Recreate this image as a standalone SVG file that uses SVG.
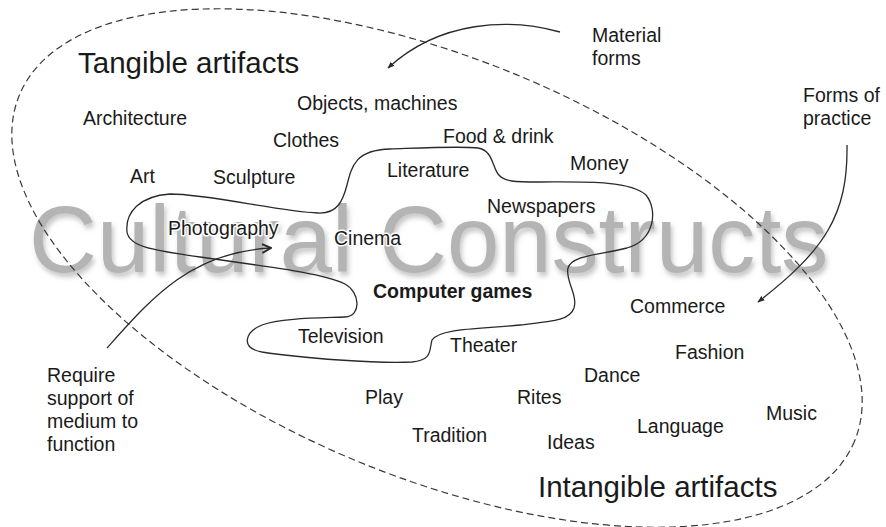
<svg xmlns="http://www.w3.org/2000/svg" width="886" height="527" viewBox="0 0 886 527">
<style>
  .lbl { font-family: "Liberation Sans", Arial, sans-serif; font-size: 19.5px; fill: #1a1a1a; stroke: #fff; stroke-width: 3px; paint-order: stroke; stroke-linejoin: round; }
  .big { font-family: "Liberation Sans", Arial, sans-serif; font-size: 29.5px; fill: #1a1a1a; }
  .bold { font-weight: bold; }
  .wm { font-family: "Liberation Sans", Arial, sans-serif; font-size: 94px; fill: #b4b4b4; }
  .line { fill: none; stroke: #2a2a2a; stroke-width: 1.3; }
  .dash { fill: none; stroke: #3a3a3a; stroke-width: 1.2; stroke-dasharray: 7 4; }
</style>
<defs>
  <filter id="shadow" x="-5%" y="-20%" width="110%" height="150%">
    <feDropShadow dx="2" dy="4" stdDeviation="2.5" flood-color="#8a8a8a" flood-opacity="0.5"/>
  </filter>
  <marker id="tri" viewBox="0 0 10 10" refX="9" refY="5" markerWidth="7" markerHeight="7" orient="auto" markerUnits="userSpaceOnUse">
    <path d="M0,1 L10,5 L0,9 Z" fill="#2a2a2a"/>
  </marker>
  <marker id="chev" viewBox="0 0 10 10" refX="9" refY="5" markerWidth="11" markerHeight="11" orient="auto" markerUnits="userSpaceOnUse">
    <path d="M1,1 L9,5 L1,9" fill="none" stroke="#2a2a2a" stroke-width="1.8"/>
  </marker>
</defs>
<rect width="886" height="527" fill="#ffffff"/>

<g id="watermark">
  <text class="wm" x="29" y="272" filter="url(#shadow)">Cultural Constructs</text>
</g>

<g id="scope-ellipse">
  <ellipse class="dash" cx="437" cy="268" rx="452" ry="209" transform="rotate(22.5 437 268)"/>
</g>

<g id="medium-region">
  <path class="line" d="M127,232 C125,212 140,196 170,194 C210,194 280,212 318,213 C338,214 343,200 347,185 C352,165 356,150 390,149 C420,148 460,146 478,148 C492,150 492,165 498,174 C504,182 515,182 540,182 C580,182 630,180 646,195 C658,210 655,240 627,248 C600,255 572,255 568,268 C565,280 578,295 574,308 C570,320 555,321 520,325 C480,329 440,328 432,340 C429,350 433,360 412,362 C380,364 300,358 262,352 C240,348 245,332 262,325 C280,318 320,318 345,317 C362,316 360,292 345,284 C320,272 260,266 200,257 C150,250 129,246 127,232 Z"/>
</g>

<g id="connectors">
  <path class="line" d="M560,32 C510,18 440,20 388,68" marker-end="url(#tri)"/>
  <path class="line" d="M847,145 C848,215 825,250 758,302" marker-end="url(#tri)"/>
  <path class="line" d="M107,348 C150,300 190,252 271,248" marker-end="url(#chev)"/>
</g>

<g id="tangible-title"><text class="big" x="78" y="73">Tangible artifacts</text></g>
<g id="intangible-title"><text class="big" x="538" y="497">Intangible artifacts</text></g>

<g id="material-forms"><text class="lbl" x="592" y="42">Material</text><text class="lbl" x="592" y="65">forms</text></g>
<g id="forms-of-practice"><text class="lbl" x="803" y="102">Forms of</text><text class="lbl" x="803" y="125">practice</text></g>
<g id="require-support">
  <text class="lbl" x="47" y="382">Require</text>
  <text class="lbl" x="47" y="405">support of</text>
  <text class="lbl" x="47" y="428">medium to</text>
  <text class="lbl" x="47" y="451">function</text>
</g>

<g id="architecture"><text class="lbl" x="83" y="125">Architecture</text></g>
<g id="objects-machines"><text class="lbl" x="297" y="110">Objects, machines</text></g>
<g id="clothes"><text class="lbl" x="273" y="147">Clothes</text></g>
<g id="food-drink"><text class="lbl" x="443" y="143">Food &amp; drink</text></g>
<g id="money"><text class="lbl" x="570" y="170">Money</text></g>
<g id="art"><text class="lbl" x="130" y="183">Art</text></g>
<g id="sculpture"><text class="lbl" x="213" y="184">Sculpture</text></g>
<g id="literature"><text class="lbl" x="387" y="177">Literature</text></g>
<g id="newspapers"><text class="lbl" x="487" y="213">Newspapers</text></g>
<g id="photography"><text class="lbl" x="168" y="235">Photography</text></g>
<g id="cinema"><text class="lbl" x="334" y="245">Cinema</text></g>
<g id="computer-games"><text class="lbl bold" x="373" y="298">Computer games</text></g>
<g id="television"><text class="lbl" x="298" y="343">Television</text></g>
<g id="theater"><text class="lbl" x="450" y="352">Theater</text></g>
<g id="commerce"><text class="lbl" x="630" y="313">Commerce</text></g>
<g id="fashion"><text class="lbl" x="675" y="359">Fashion</text></g>
<g id="dance"><text class="lbl" x="584" y="382">Dance</text></g>
<g id="play"><text class="lbl" x="365" y="404">Play</text></g>
<g id="rites"><text class="lbl" x="517" y="404">Rites</text></g>
<g id="music"><text class="lbl" x="766" y="420">Music</text></g>
<g id="language"><text class="lbl" x="637" y="433">Language</text></g>
<g id="tradition"><text class="lbl" x="412" y="442">Tradition</text></g>
<g id="ideas"><text class="lbl" x="547" y="449">Ideas</text></g>
</svg>
